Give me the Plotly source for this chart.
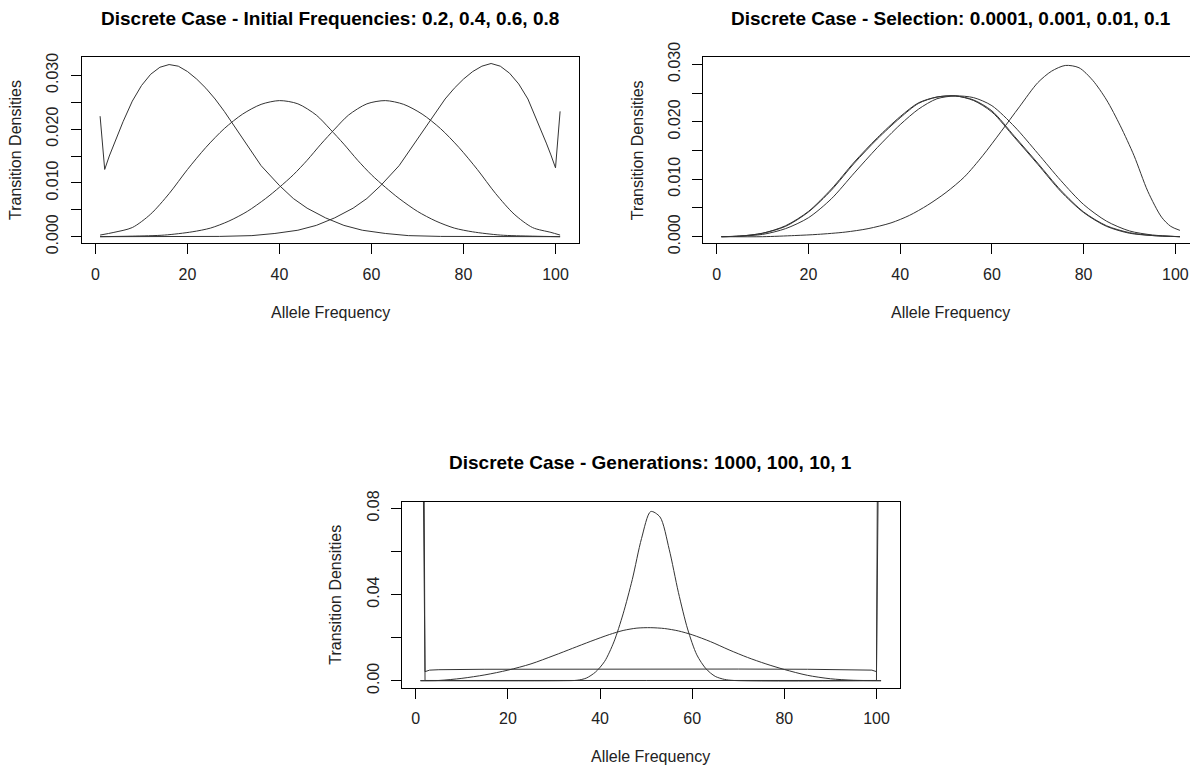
import plotly.graph_objects as go

W, H = 1190, 765

# ---------------- Panel 1: initial frequencies 0.2, 0.4, 0.6, 0.8 ----------------
p02_x = [1, 2, 3, 4, 6, 8, 10, 12, 14, 16, 18, 20, 22, 24, 26, 28, 30, 33, 36, 40, 43, 46, 50, 54, 58, 63,
         68, 75, 85, 101]
p02_y = [0.0224, 0.0125, 0.0150, 0.0172, 0.0214, 0.0252, 0.0281, 0.0302, 0.0315, 0.0320, 0.0317, 0.0307,
         0.0293, 0.0276, 0.0256, 0.0233, 0.0208, 0.0169, 0.0132, 0.0095, 0.0071, 0.0053, 0.0035, 0.0021,
         0.0012, 0.0006, 0.0002, 0.00005, 0.0, 0.0]

p04_x = [1, 4, 8, 12, 16, 20, 24, 28, 32, 36, 40, 44, 48, 51, 54, 57, 60, 63, 66, 70, 74, 78, 82, 88, 95, 101]
p04_y = [0.0003, 0.0008, 0.0017, 0.0042, 0.0080, 0.0125, 0.0166, 0.0201, 0.0228, 0.0246, 0.0253,
         0.0247, 0.0226, 0.0200, 0.0172, 0.0142, 0.0115, 0.0092, 0.0071, 0.0047, 0.0029, 0.0016, 0.0009,
         0.0003, 0.0001, 0.0]

p06_x = [1, 8, 15, 21, 25, 29, 33, 37, 40, 43, 46, 49, 52, 55, 59, 63, 67, 71, 75, 79, 83, 87, 91, 95, 99, 101]
p06_y = [0.0, 0.0001, 0.0003, 0.0009, 0.0016, 0.0029, 0.0047, 0.0071, 0.0092, 0.0115, 0.0142, 0.0172,
         0.0200, 0.0226, 0.0247, 0.0253, 0.0246, 0.0228, 0.0201, 0.0166, 0.0125, 0.0080, 0.0042,
         0.0017, 0.0008, 0.0003]

p08_x = [1, 17, 27, 34, 39, 44, 48, 52, 56, 59, 62, 66, 69, 72, 74, 76, 78, 80, 82, 84, 86, 88, 90, 92, 94,
         96, 98, 99, 100, 101]
p08_y = [0.0, 0.0, 0.00005, 0.0002, 0.0006, 0.0012, 0.0021, 0.0035, 0.0053, 0.0071, 0.0095, 0.0132,
         0.0169, 0.0208, 0.0233, 0.0256, 0.0276, 0.0293, 0.0307, 0.0317, 0.0322, 0.0317, 0.0304, 0.0284,
         0.0256, 0.0216, 0.0174, 0.0152, 0.0128, 0.0233]

# ---------------- Panel 2: selection 0.0001, 0.001, 0.01, 0.1 ----------------
sel_x = [1, 5, 10, 15, 20, 25, 30, 35, 40, 44, 48, 52, 56, 60, 65, 70, 75, 80, 85, 90, 95, 101]
s0001_y = [0.0, 0.0001, 0.0006, 0.0019, 0.0044, 0.0083, 0.0130, 0.0172, 0.0209, 0.0233, 0.0243, 0.0245,
           0.0237, 0.0217, 0.0172, 0.0126, 0.0079, 0.0042, 0.0018, 0.0006, 0.0002, 0.0]
s001_y = [0.0, 0.0001, 0.0006, 0.0018, 0.0043, 0.0081, 0.0128, 0.0170, 0.0207, 0.0232, 0.0243, 0.0245,
          0.0238, 0.0219, 0.0174, 0.0128, 0.0081, 0.0043, 0.0019, 0.0007, 0.0002, 0.0]
s01_y = [0.0, 0.0001, 0.0004, 0.0014, 0.0033, 0.0066, 0.0111, 0.0155, 0.0195, 0.0222, 0.0240, 0.0245,
         0.0242, 0.0228, 0.0191, 0.0145, 0.0098, 0.0056, 0.0027, 0.0010, 0.0003, 0.0]

s1_x = [1, 10, 17, 22, 28, 33, 38, 42, 46, 50, 54, 58, 62, 66, 70, 73, 76, 79, 82, 85, 88, 91, 94, 97, 99, 101]
s1_y = [0.0, 0.0, 0.0002, 0.0004, 0.0008, 0.0014, 0.0024, 0.0037, 0.0055, 0.0077, 0.0104, 0.0141, 0.0183,
        0.0226, 0.0268, 0.0288, 0.0298, 0.0294, 0.0272, 0.0238, 0.0193, 0.0141, 0.0079, 0.0034, 0.0018, 0.0011]

# ---------------- Panel 3: generations 1000, 100, 10, 1 ----------------
g1000_x = [1, 2, 50, 100, 101]
g1000_y = [0.47, 0.0001, 0.0001, 0.0001, 0.47]

g100_x = [1, 2, 3, 5, 15, 30, 50, 70, 85, 97, 99, 100, 101]
g100_y = [0.235, 0.0042, 0.0049, 0.0051, 0.0053, 0.0054, 0.0054, 0.0054, 0.0053, 0.0052, 0.0049, 0.0042, 0.235]

g10_x = [1, 5, 10, 15, 20, 25, 30, 34, 38, 42, 45, 48, 51, 54, 57, 60, 64, 68, 72, 76, 80, 85, 90, 95, 101]
g10_y = [0.0, 0.0001, 0.0011, 0.0027, 0.0049, 0.0078, 0.0117, 0.0150, 0.0183, 0.0214, 0.0233, 0.0244,
         0.0246, 0.0242, 0.0231, 0.0213, 0.0181, 0.0143, 0.0108, 0.0078, 0.0052, 0.0025, 0.0009, 0.0002, 0.0]

g1_x = [1, 32, 35, 37, 39, 41, 43, 45, 47, 49, 51, 53, 55, 57, 59, 61, 63, 65, 67, 69, 101]
g1_y = [0.0, 0.0, 0.0002, 0.0012, 0.0040, 0.0090, 0.0180, 0.0310, 0.0470, 0.0660, 0.0785, 0.0760, 0.0610,
        0.0410, 0.0240, 0.0120, 0.0055, 0.0020, 0.0006, 0.0001, 0.0]

x_ticks = [0, 20, 40, 60, 80, 100]
y_ticks_top = [0, 0.005, 0.010, 0.015, 0.020, 0.025, 0.030]
y_text_top = ["0.000", "", "0.010", "", "0.020", "", "0.030"]
y_ticks_bot = [0, 0.02, 0.04, 0.06, 0.08]
y_text_bot = ["0.00", "", "0.04", "", "0.08"]

titles = [
    "Discrete Case - Initial Frequencies: 0.2, 0.4, 0.6, 0.8",
    "Discrete Case - Selection: 0.0001, 0.001, 0.01, 0.1",
    "Discrete Case - Generations: 1000, 100, 10, 1",
]
xlab = "Allele Frequency"
ylab = "Transition Densities"

FONT = "Liberation Sans, Arial, sans-serif"
LINE = "#333333"

# plot-box geometry in pixels: (left, right, top, bottom)
boxes = [(81.7, 578.5, 57.3, 243.3), (703.0, 1190.0, 57.3, 243.3), (402.0, 899.5, 501.7, 687.7)]
xranges = [[-3, 105], [-3, 103.2], [-3, 105]]
yranges = [[-0.00123, 0.03335], [-0.00115, 0.03122], [-0.00325, 0.08306]]

fig = go.Figure()


def add_curve(panel, xs, ys, shape="spline"):
    sfx = "" if panel == 1 else str(panel)
    line = dict(color=LINE, width=1, shape=shape)
    if shape == "spline":
        line["smoothing"] = 0.8
    fig.add_trace(go.Scatter(x=xs, y=ys, mode="lines", xaxis="x" + sfx, yaxis="y" + sfx,
                             line=line, hoverinfo="skip", showlegend=False))


add_curve(1, p02_x, p02_y, shape="linear")
add_curve(1, p04_x, p04_y)
add_curve(1, p06_x, p06_y)
add_curve(1, p08_x, p08_y, shape="linear")
for xs, ys in [(sel_x, s0001_y), (sel_x, s001_y), (sel_x, s01_y), (s1_x, s1_y)]:
    add_curve(2, xs, ys)
add_curve(3, g1000_x, g1000_y, shape="linear")
add_curve(3, g100_x, g100_y, shape="linear")
add_curve(3, g10_x, g10_y)
add_curve(3, g1_x, g1_y)

layout = dict(
    template="none",
    width=W, height=H, margin=dict(l=0, r=0, t=0, b=0, pad=0, autoexpand=False),
    paper_bgcolor="white", plot_bgcolor="white", showlegend=False,
    font=dict(family=FONT, size=16, color="#222"),
)

annotations = []
for i, (l, r, t, b) in enumerate(boxes):
    sfx = "" if i == 0 else str(i + 1)
    ytv, ytt = (y_ticks_top, y_text_top) if i < 2 else (y_ticks_bot, y_text_bot)
    layout["xaxis" + sfx] = dict(
        domain=[l / W, r / W], range=xranges[i], anchor="y" + sfx, automargin=False,
        showline=True, linecolor="black", linewidth=1, mirror=True,
        ticks="outside", ticklen=10, tickcolor="black", tickwidth=1,
        tickvals=x_ticks, ticktext=[str(v) for v in x_ticks], ticklabelstandoff=6,
        showgrid=False, zeroline=False, tickfont=dict(size=16, color="#222"),
    )
    layout["yaxis" + sfx] = dict(
        domain=[1 - b / H, 1 - t / H], range=yranges[i], anchor="x" + sfx, automargin=False,
        showline=True, linecolor="black", linewidth=1, mirror=(i != 1),
        ticks="outside", ticklen=10, tickcolor="black", tickwidth=1,
        tickvals=ytv, ticktext=ytt, tickangle=-90, ticklabelstandoff=6,
        showgrid=False, zeroline=False, tickfont=dict(size=16, color="#222"),
    )
    cx = (l + r) / 2 if i != 1 else (703.0 + 1198.0) / 2
    annotations.append(dict(text="<b>" + titles[i] + "</b>", x=cx / W, y=1 - (t - 39) / H,
                            xref="paper", yref="paper", showarrow=False, xanchor="center",
                            yanchor="middle", font=dict(size=19, color="black", family=FONT)))
    annotations.append(dict(text=xlab, x=cx / W, y=1 - (b + 69) / H, xref="paper", yref="paper",
                            showarrow=False, xanchor="center", yanchor="middle",
                            font=dict(size=16, color="#222", family=FONT)))
    annotations.append(dict(text=ylab, x=(l - 66) / W, y=1 - ((t + b) / 2) / H, xref="paper",
                            yref="paper", showarrow=False, xanchor="center", yanchor="middle",
                            textangle=-90, font=dict(size=16, color="#222", family=FONT)))

layout["annotations"] = annotations
fig.update_layout(**layout)
fig.write_html("out.html")
